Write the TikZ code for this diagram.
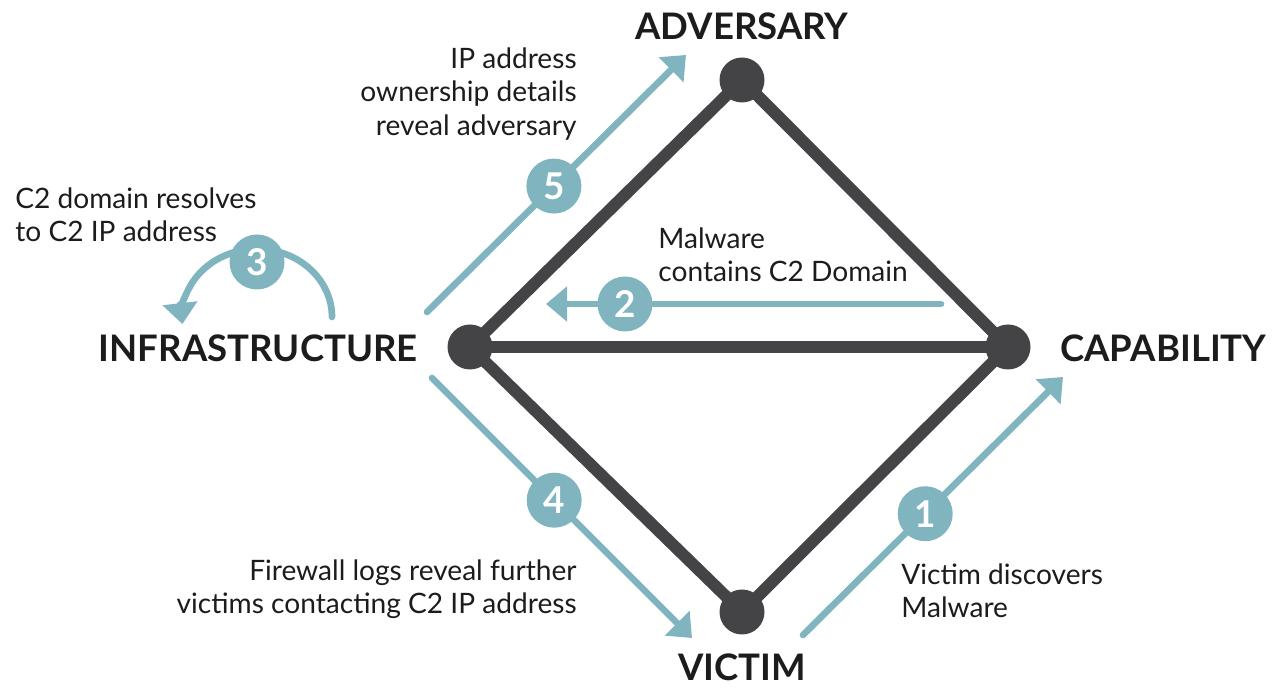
\documentclass[tikz,border=0pt]{standalone}
\usepackage{fontspec}
\setmainfont{Lato}
\usepackage{tikz}
\usetikzlibrary{positioning,arrows.meta,calc}
\definecolor{edgegray}{HTML}{444446}
\definecolor{flowteal}{HTML}{80B5BF}
\definecolor{textblack}{HTML}{1C1C1C}
\tikzset{
    vertex/.style = {
        shape=circle,
        fill=edgegray,
        minimum size=0.9cm,
        inner sep=0pt
    },
    edge/.style = {
        draw=edgegray,
        line width=6.8pt,
        line cap=round
    },
    flow/.style = {
        draw=flowteal,
        line width=3.8pt,
        line cap=round,
        -{Triangle[length=0.42cm,width=0.68cm]}
    },
    badge/.style = {
        shape=circle,
        fill=flowteal,
        minimum size=1.1cm,
        inner sep=0pt,
        text=white,
        font=\fontsize{21}{21}\selectfont\bfseries
    },
    caps/.style = {
        inner sep=0pt,
        text=textblack,
        font=\fontsize{20.8}{22}\selectfont\bfseries
    },
    note/.style = {
        inner sep=0pt,
        text=textblack,
        font=\fontsize{16}{19}\selectfont
    },
}
\begin{document}
\begin{tikzpicture}
                \useasboundingbox (0,0) rectangle (25.62,13.8);

                \node[vertex] (adv) at (14.84,12.2) {};
                \node[vertex] (infra) at (9.4,6.86) {};
                \node[vertex] (cap) at (20.16,6.86) {};
                \node[vertex] (vic) at (14.84,1.56) {};

                \path[edge] (adv.center) -- (infra.center);
                \path[edge] (adv.center) -- (cap.center);
                \path[edge] (infra.center) -- (cap.center);
                \path[edge] (infra.center) -- (vic.center);
                \path[edge] (vic.center) -- (cap.center);

                \node[caps] (advlbl) at (14.84,13.28) {ADVERSARY};
                \node[caps, anchor=east] (infralbl) at (8.36,6.84) {INFRASTRUCTURE};
                \node[caps, anchor=west] (caplbl) at (21.2,6.84) {CAPABILITY};
                \node[caps] (viclbl) at (14.84,0.46) {VICTIM};

                % numbered steps
                \coordinate (s1) at (16.06,1.1);
                \coordinate (e1) at (21.26,6.26);
                \path[flow] (s1) -- node[badge, pos=0.47] (b1) {1} (e1);

                \coordinate (s2) at (18.82,7.72);
                \coordinate (e2) at (10.92,7.72);
                \path[flow] (s2) -- node[badge, pos=0.8] (b2) {2} (e2);

                \coordinate (s3) at (6.64,7.46);
                \path[flow] (s3) arc[start angle=0, end angle=186, x radius=1.5cm, y radius=1.36cm];
                \node[badge] (b3) at (5.14,8.56) {3};

                \coordinate (s4) at (8.64,6.24);
                \coordinate (e4) at (13.84,1.04);
                \path[flow] (s4) -- node[badge, pos=0.47] (b4) {4} (e4);

                \coordinate (s5) at (8.54,7.56);
                \coordinate (e5) at (13.72,12.7);
                \path[flow] (s5) -- node[badge, pos=0.49] (b5) {5} (e5);

                \node[note, align=left, anchor=west] (t1) at (18.02,1.99) {Victim discovers\\Malware};
                \node[note, align=left, anchor=west] (t2) at (13.16,8.7) {Malware\\contains C2 Domain};
                \node[note, align=left, anchor=west] (t3) at (0.3,9.5) {C2 domain resolves\\to C2 IP address};
                \node[note, align=right, anchor=east] (t4) at (11.54,2.01) {Firewall logs reveal further\\victims contacting C2 IP address};
                \node[note, align=right, anchor=east] (t5) at (11.54,11.92) {IP address\\ownership details\\reveal adversary};
            \end{tikzpicture}
\end{document}
